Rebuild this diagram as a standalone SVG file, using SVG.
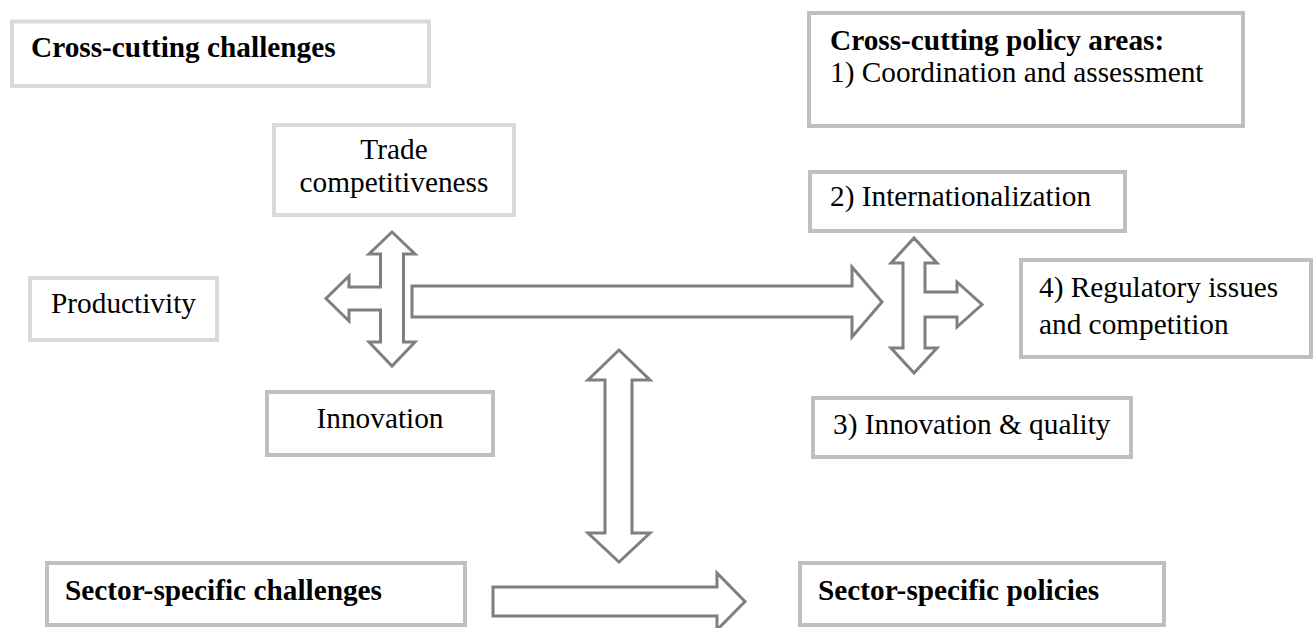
<svg xmlns="http://www.w3.org/2000/svg" width="1314" height="628" viewBox="0 0 1314 628">
<style>
.box{fill:#ffffff;stroke-width:4}
.lt{stroke:#d9d9d9}
.md{stroke:#bfbfbf}
.t{font-family:"Liberation Serif","Times New Roman",serif;font-size:29.3px;fill:#000000}
.b{font-weight:bold}
.c{text-anchor:middle}
.arr{fill:#ffffff;stroke:#7f7f7f;stroke-width:3;stroke-linejoin:miter}
</style>
<rect width="1314" height="628" fill="#ffffff"/>
<g id="node-cross-cutting-challenges">
<rect class="box lt" x="12" y="21.5" width="417" height="64.5"/>
<text class="t b" x="31" y="57">Cross-cutting challenges</text>
</g>
<g id="node-cross-cutting-policy-areas">
<rect class="box md" x="809" y="13" width="434" height="113"/>
<text class="t b" x="830" y="50">Cross-cutting policy areas:</text>
<text class="t" x="830" y="82">1) Coordination and assessment</text>
</g>
<g id="node-trade">
<rect class="box lt" x="274" y="125" width="240" height="90"/>
<text class="t c" x="394" y="159">Trade</text>
<text class="t c" x="394" y="192">competitiveness</text>
</g>
<g id="node-productivity">
<rect class="box lt" x="30" y="278" width="187" height="62"/>
<text class="t c" x="123.5" y="313">Productivity</text>
</g>
<g id="node-innovation">
<rect class="box md" x="267" y="392" width="226" height="63"/>
<text class="t c" x="380" y="428">Innovation</text>
</g>
<g id="node-internationalization">
<rect class="box md" x="810" y="172" width="315" height="59"/>
<text class="t" x="830" y="206">2) Internationalization</text>
</g>
<g id="node-regulatory">
<rect class="box md" x="1021" y="260" width="290" height="97"/>
<text class="t" x="1039" y="297">4) Regulatory issues</text>
<text class="t" x="1039" y="334">and competition</text>
</g>
<g id="node-innovation-quality">
<rect class="box md" x="813" y="398" width="318" height="59"/>
<text class="t" x="833" y="434">3) Innovation &amp; quality</text>
</g>
<g id="node-sector-challenges">
<rect class="box md" x="47" y="563" width="418" height="62"/>
<text class="t b" x="65" y="600">Sector-specific challenges</text>
</g>
<g id="node-sector-policies">
<rect class="box md" x="800" y="563" width="364" height="62"/>
<text class="t b" x="818" y="600">Sector-specific policies</text>
</g>
<g id="connectors">
<path class="arr" d="M392,232 L415,254 L403.5,254 L403.5,342 L415,342 L392,366 L369,342 L380.5,342 L380.5,310 L349,310 L349,321 L326,298.5 L349,276 L349,287 L380.5,287 L380.5,254 L369,254 Z"/>
<path class="arr" d="M412,286 L852,286 L852,267 L882,302 L852,337 L852,317 L412,317 Z"/>
<path class="arr" d="M914,238 L937,263 L925,263 L925,292 L957,292 L957,282 L982,304.5 L957,327 L957,317 L925,317 L925,348 L937,348 L914,373 L891,348 L903,348 L903,263 L891,263 Z"/>
<path class="arr" d="M619,350 L650,380 L632,380 L632,533 L650,533 L619,562 L588,533 L605,533 L605,380 L588,380 Z"/>
<path class="arr" d="M493,587 L717,587 L717,573 L745,601.5 L717,630 L717,616 L493,616 Z"/>
</g>
</svg>
